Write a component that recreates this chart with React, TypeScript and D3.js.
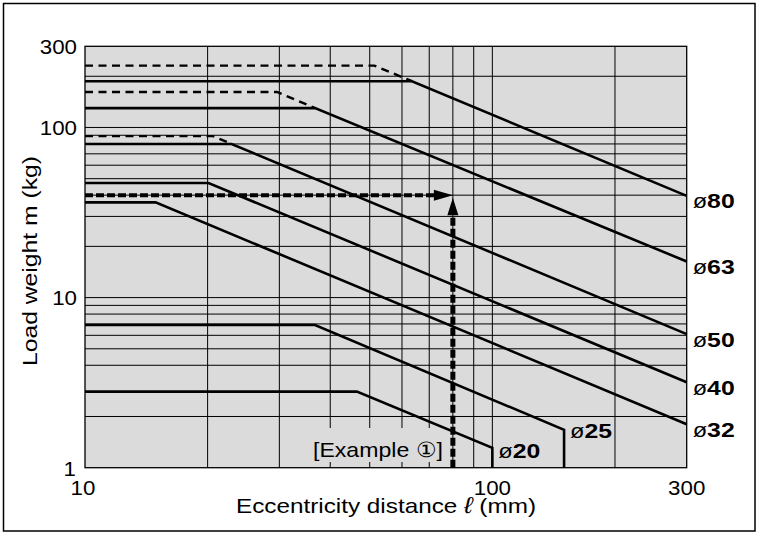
import React from "react";
import * as d3 from "d3";

// ---- data ----
const xDomain: [number, number] = [10, 300];
const yDomain: [number, number] = [1, 300];
const xGridValues = [20, 30, 40, 50, 60, 70, 80, 90, 100, 200];
const yGridValues = [2, 4, 5, 6, 7, 8, 9, 10, 20, 30, 40, 50, 60, 70, 80, 90, 100, 200];
const xTickLabels = [10, 100, 300];
const yTickLabels = [1, 10, 100, 300];

const boreLabels = ["ø80", "ø63", "ø50", "ø40", "ø32", "ø25", "ø20"];
const solid80: [number, number][] = [[10, 187], [63.5, 187], [300, 39.6]];
const solid63: [number, number][] = [[10, 130], [36.7, 130], [300, 16.3]];
const solid50: [number, number][] = [[10, 80], [22.9, 80], [300, 6.1]];
const solid40: [number, number][] = [[10, 47.2], [20.1, 47.2], [300, 3.18]];
const solid32: [number, number][] = [[10, 36.3], [14.9, 36.3], [300, 1.8]];
const solid25: [number, number][] = [[10, 6.9], [36.7, 6.9], [150, 1.67], [150, 1]];
const solid20: [number, number][] = [[10, 2.8], [46.5, 2.8], [100, 1.31], [100, 1]];
const dashed80: [number, number][] = [[10, 231], [51.3, 231], [63.5, 187]];
const dashed63: [number, number][] = [[10, 161.6], [29.6, 161.6], [36.7, 130]];
const dashed50: [number, number][] = [[10, 89], [20.6, 89], [22.9, 80]];
const solidSeries = [solid80, solid63, solid50, solid40, solid32, solid25, solid20];
const dashedSeries = [dashed80, dashed63, dashed50];

const exampleX = 80;
const exampleY = 40;
const exampleText = "[Example ①]";

const xTitle = "Eccentricity distance ";
const yTitle = "Load weight m (kg)";

const FONT = "'Liberation Sans', Arial, Helvetica, sans-serif";

export default function App() {
  const W = 761, H = 535;
  const plot = { left: 85, right: 686.7, top: 46.3, bottom: 467.7 };
  const x = d3.scaleLog().domain(xDomain).range([plot.left, plot.right]);
  const y = d3.scaleLog().domain(yDomain).range([plot.bottom, plot.top]);
  const line = d3
    .line<[number, number]>()
    .x((d) => x(d[0]))
    .y((d) => y(d[1]));

  const ex = x(exampleX);
  const ey = y(exampleY);

  return (
    <svg
      width={W}
      height={H}
      style={{ position: "absolute", left: 0, top: 0, background: "#fff" }}
      fontFamily={FONT}
    >
      {/* outer frame */}
      <rect x={3.5} y={3.5} width={751.5} height={527.5} fill="#fff" stroke="#000" strokeWidth={1.5} />

      {/* plot background */}
      <rect
        x={plot.left}
        y={plot.top}
        width={plot.right - plot.left}
        height={plot.bottom - plot.top}
        fill="#dbdbdb"
      />

      {/* grid */}
      {xGridValues.map((v) => (
        <line key={"gx" + v} x1={x(v)} x2={x(v)} y1={plot.top} y2={plot.bottom} stroke="#000" strokeWidth={1} />
      ))}
      {yGridValues.map((v) => (
        <line key={"gy" + v} x1={plot.left} x2={plot.right} y1={y(v)} y2={y(v)} stroke="#000" strokeWidth={1} />
      ))}

      {/* example label background */}
      <rect x={310} y={428} width={137} height={34} fill="#dbdbdb" />

      {/* data lines */}
      {solidSeries.map((s, i) => (
        <path key={"s" + i} d={line(s) || ""} fill="none" stroke="#000" strokeWidth={2.6} strokeLinejoin="miter" />
      ))}
      {dashedSeries.map((s, i) => (
        <path key={"d" + i} d={line(s) || ""} fill="none" stroke="#000" strokeWidth={2.4} strokeDasharray="8 5.5" />
      ))}

      {/* example arrows */}
      <line x1={plot.left} x2={ex - 17} y1={ey} y2={ey} stroke="#000" strokeWidth={4} strokeDasharray="8 3" />
      <polygon points={`${ex},${ey} ${ex - 19},${ey - 5.5} ${ex - 19},${ey + 5.5}`} fill="#000" />
      <line x1={ex} x2={ex} y1={plot.bottom} y2={ey + 18} stroke="#000" strokeWidth={5} strokeDasharray="8 3" />
      <polygon points={`${ex},${ey + 2.5} ${ex - 5.5},${ey + 20} ${ex + 5.5},${ey + 20}`} fill="#000" />

      {/* plot border */}
      <rect
        x={plot.left}
        y={plot.top}
        width={plot.right - plot.left}
        height={plot.bottom - plot.top}
        fill="none"
        stroke="#000"
        strokeWidth={1.3}
      />

      {/* tick labels */}
      {yTickLabels.map((v) => (
        <text
          key={"yl" + v}
          x={v === 1 ? 76 : 77}
          y={y(v) + (v === 1 ? 8.5 : 7.5)}
          textAnchor="end"
          fontSize={21}
          textLength={String(v).length * 12.4}
          lengthAdjust="spacingAndGlyphs"
        >
          {v}
        </text>
      ))}
      {xTickLabels.map((v) => (
        <text
          key={"xl" + v}
          x={x(v) - (v === 10 ? 2 : 0)}
          y={494.5}
          textAnchor="middle"
          fontSize={21}
          textLength={String(v).length * 12.4}
          lengthAdjust="spacingAndGlyphs"
        >
          {v}
        </text>
      ))}

      {/* axis titles */}
      <text x={236} y={513} fontSize={21} textLength={300} lengthAdjust="spacingAndGlyphs">
        {xTitle}
        <tspan fontStyle="italic" fontSize={23}>ℓ</tspan>
        {" (mm)"}
      </text>
      <text
        transform={`translate(36.5, ${366}) rotate(-90)`}
        x={0}
        y={0}
        fontSize={21}
        textLength={210}
        lengthAdjust="spacingAndGlyphs"
      >
        {yTitle}
      </text>

      {/* bore labels */}
      {boreLabels.map((lab, i) => {
        const s = solidSeries[i];
        let lx: number, ly: number;
        if (i < 5) {
          const end = s[s.length - 1];
          lx = x(end[0]) + 6;
          ly = y(end[1]) + 12.5;
        } else {
          const corner = s[s.length - 2];
          lx = x(corner[0]) + 6;
          ly = y(corner[1]) + (i === 5 ? 8 : 10);
        }
        return (
          <text key={lab} x={lx} y={ly} fontSize={21} fontWeight="bold" textLength={42} lengthAdjust="spacingAndGlyphs">
            <tspan fontWeight="normal" fontSize={20}>{lab.slice(0, 1)}</tspan>
            {lab.slice(1)}
          </text>
        );
      })}

      {/* example label */}
      <text x={313} y={457} fontSize={21} textLength={130} lengthAdjust="spacingAndGlyphs">
        {exampleText}
      </text>
    </svg>
  );
}
